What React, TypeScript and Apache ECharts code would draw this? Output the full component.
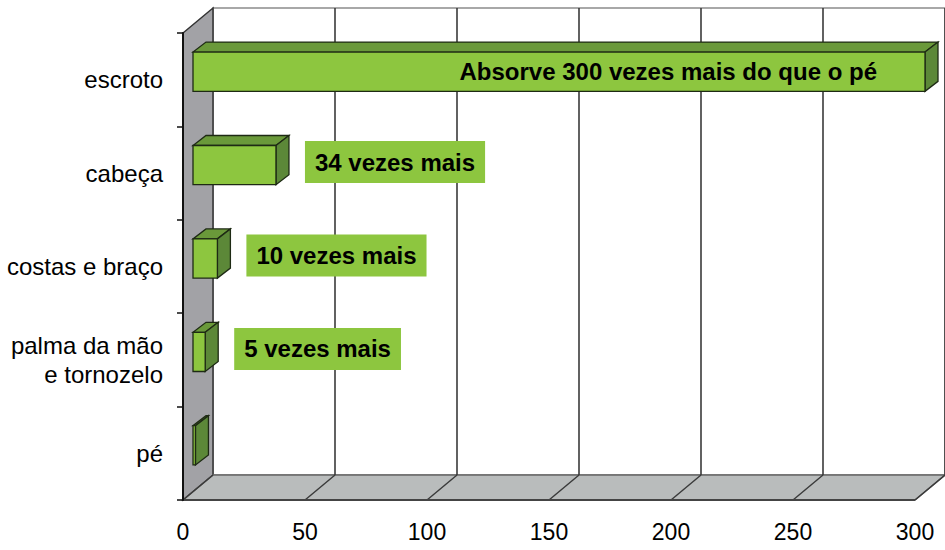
import React, { useEffect, useRef } from "react";
import * as echarts from "echarts";

const categories = ["escroto", "cabeça", "costas e braço", "palma da mão\ne tornozelo", "pé"];
const values = [300, 34, 10, 5, 1];
const annotations = [
  "Absorve 300 vezes mais do que o pé",
  "34 vezes mais",
  "10 vezes mais",
  "5 vezes mais",
  "",
];
const xTicks = [0, 50, 100, 150, 200, 250, 300];

const FONT = "'Liberation Sans', Arial, sans-serif";
const DX = 30;
const DY = -25;

export default function App() {
  const ref = useRef<HTMLDivElement>(null);
  useEffect(() => {
    if (!ref.current) return;
    const chart = echarts.init(ref.current, null, { renderer: "svg" });

    const renderBackground = (params: any, api: any) => {
      const cs = params.coordSys;
      const left = cs.x;
      const top = cs.y;
      const bottom = cs.y + cs.height;
      const right = cs.x + cs.width;
      const children: any[] = [];
      children.push({
        type: "rect",
        shape: { x: left + DX, y: top + DY, width: cs.width, height: cs.height },
        style: { fill: "#ffffff", stroke: "#8c8c8c", lineWidth: 1.5 },
      });
      children.push({
        type: "polygon",
        shape: { points: [[left, top], [left + DX, top + DY], [left + DX, bottom + DY], [left, bottom]] },
        style: { fill: "#a2a2a6", stroke: "#333", lineWidth: 1.5 },
      });
      children.push({
        type: "polygon",
        shape: { points: [[left, bottom], [right, bottom], [right + DX, bottom + DY], [left + DX, bottom + DY]] },
        style: { fill: "#b9bcbc", stroke: "#666", lineWidth: 1.5 },
      });
      xTicks.forEach((v) => {
        const px = api.coord([v, 0])[0];
        if (v !== 0) {
          children.push({
            type: "line",
            shape: { x1: px + DX, y1: top + DY, x2: px + DX, y2: bottom + DY },
            style: { stroke: "#3a3a3a", lineWidth: 1.6 },
          });
        }
        children.push({
          type: "line",
          shape: { x1: px, y1: bottom, x2: px + DX, y2: bottom + DY },
          style: { stroke: "#3a3a3a", lineWidth: 1.4 },
        });
      });
      children.push({
        type: "line",
        shape: { x1: left, y1: bottom, x2: right, y2: bottom },
        style: { stroke: "#444", lineWidth: 2 },
      });
      return { type: "group", children };
    };

    const renderBar = (params: any, api: any) => {
      const v = api.value(0);
      const i = api.value(1);
      const p0 = api.coord([0, i]);
      const p1 = api.coord([v, i]);
      const band = api.size([0, 1])[1];
      const w = p1[0] - p0[0];
      const fx = p0[0] + 10;
      const cy = p0[1] - 8;
      const h = band * 0.42;
      const t = cy - h / 2;
      const bx = 13;
      const by = -10;
      const stroke = "#1e2a14";
      const children: any[] = [
        {
          type: "polygon",
          shape: { points: [[fx, t], [fx + w, t], [fx + w + bx, t + by], [fx + bx, t + by]] },
          style: { fill: "#6a993a", stroke, lineWidth: 1.3 },
        },
        {
          type: "polygon",
          shape: { points: [[fx + w, t], [fx + w + bx, t + by], [fx + w + bx, t + by + h], [fx + w, t + h]] },
          style: { fill: "#5c8838", stroke, lineWidth: 1.3 },
        },
        {
          type: "rect",
          shape: { x: fx, y: t, width: w, height: h },
          style: { fill: "#8dc63f", stroke, lineWidth: 1.3 },
        },
      ];
      const label = annotations[params.dataIndex];
      if (label) {
        if (w > 400) {
          children.push({
            type: "text",
            style: {
              text: label,
              x: fx + w - 48,
              y: cy,
              align: "right",
              verticalAlign: "middle",
              fontFamily: FONT,
              fontSize: 24,
              fontWeight: "bold",
              fill: "#000",
            },
          });
        } else {
          children.push({
            type: "text",
            style: {
              text: label,
              x: fx + w + bx + 16,
              y: p0[1] - 11,
              align: "left",
              verticalAlign: "middle",
              fontFamily: FONT,
              fontSize: 24,
              fontWeight: "bold",
              fill: "#000",
              backgroundColor: "#8dc63f",
              padding: [9, 10, 9, 10],
            },
          });
        }
      }
      return { type: "group", children };
    };

    chart.setOption({
      animation: false,
      backgroundColor: "#ffffff",
      grid: { left: 183, right: 30, top: 33, bottom: 50, containLabel: false },
      xAxis: {
        type: "value",
        min: 0,
        max: 300,
        interval: 50,
        axisLine: { show: false },
        axisTick: { show: false },
        splitLine: { show: false },
        axisLabel: { fontSize: 23, color: "#000", fontFamily: FONT, margin: 20 },
      },
      yAxis: {
        type: "category",
        inverse: true,
        data: categories,
        axisLine: { show: true, lineStyle: { color: "#111", width: 2 } },
        axisTick: { show: true, length: 6, lineStyle: { color: "#111", width: 1.5 } },
        axisLabel: { fontSize: 24, color: "#000", fontFamily: FONT, margin: 20, lineHeight: 29, padding: [6, 0, 0, 0] },
        z: 5,
      },
      series: [
        {
          type: "custom",
          coordinateSystem: "cartesian2d",
          data: [[0, 0]],
          renderItem: renderBackground,
          clip: false,
          silent: true,
          z: 1,
        },
        {
          type: "custom",
          coordinateSystem: "cartesian2d",
          data: values.map((v, i) => [v, i]),
          encode: { x: 0, y: 1 },
          renderItem: renderBar,
          clip: false,
          z: 3,
        },
      ],
    });
    return () => chart.dispose();
  }, []);
  return <div ref={ref} style={{ position: "fixed", left: 0, top: 0, width: 945, height: 550 }} />;
}
